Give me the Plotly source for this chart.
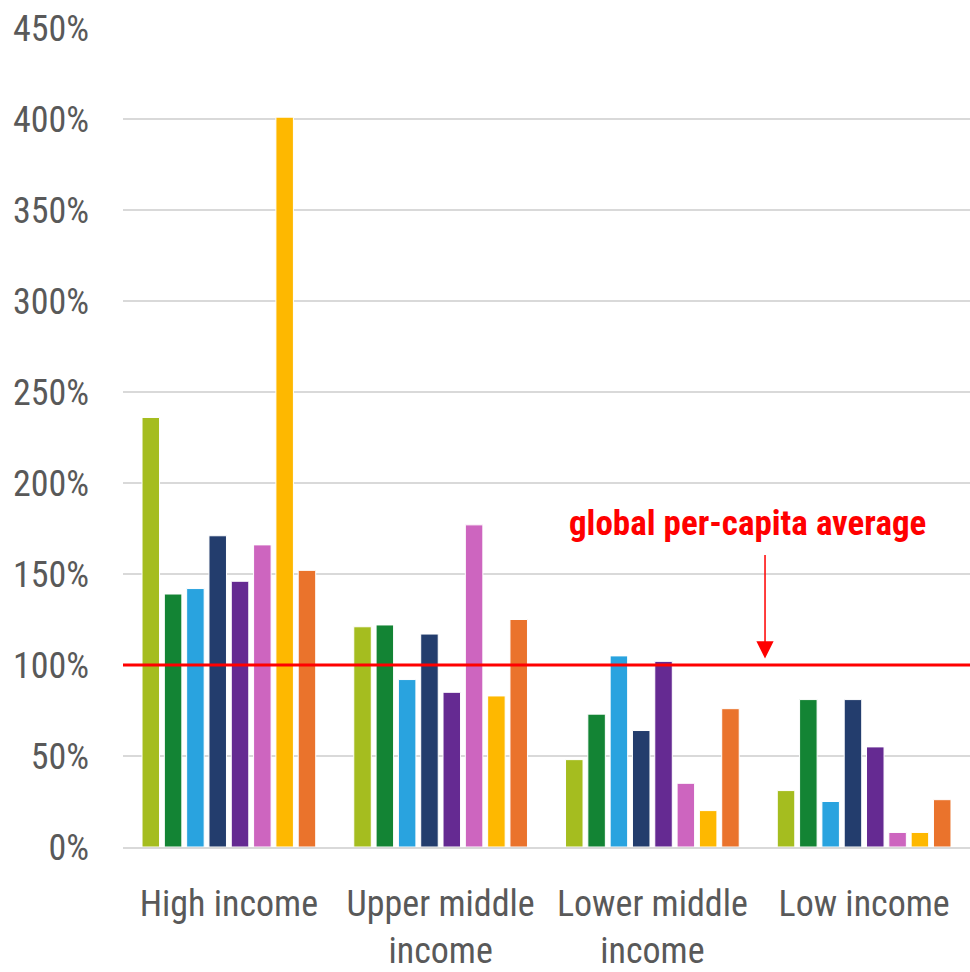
import plotly.graph_objects as go

# Income groups on the x axis
categories = ["High income", "Upper middle<br>income", "Lower middle<br>income", "Low income"]

# Per-capita values relative to the global average (%), one list per series
series_1 = [236, 121, 48, 31]
series_2 = [139, 122, 73, 81]
series_3 = [142, 92, 105, 25]
series_4 = [171, 117, 64, 81]
series_5 = [146, 85, 102, 55]
series_6 = [166, 177, 35, 8]
series_7 = [401, 83, 20, 8]
series_8 = [152, 125, 76, 26]

series_values = [series_1, series_2, series_3, series_4,
                 series_5, series_6, series_7, series_8]
series_colors = ["#A5BD1F", "#138434", "#29A3DF", "#233D6D",
                 "#652A92", "#CD65BF", "#FEB800", "#EA732C"]

global_average = 100
y_ticks = [0, 50, 100, 150, 200, 250, 300, 350, 400, 450]
y_tick_labels = [f"{v}%" for v in y_ticks]

FONT = "Roboto Condensed, DejaVu Sans Condensed, sans-serif"

fig = go.Figure()
for i, (vals, col) in enumerate(zip(series_values, series_colors)):
    fig.add_trace(go.Bar(
        x=categories, y=vals, name=f"Series {i + 1}",
        marker=dict(color=col, line=dict(color="white", width=1)),
        showlegend=False, hoverinfo="skip",
    ))

# Global per-capita average reference line
fig.add_shape(type="line", xref="paper", x0=0, x1=1, yref="y",
              y0=global_average, y1=global_average,
              line=dict(color="#FF0000", width=3), layer="above")

# Label and pointer for the reference line
fig.add_annotation(xref="paper", yref="y", x=0.737, y=178,
                   xanchor="center", yanchor="middle",
                   text="global per-capita average", showarrow=False,
                   font=dict(family=FONT, size=35, color="#FF0000", weight="bold"))
fig.add_annotation(xref="paper", yref="y", x=0.758, y=global_average + 3.6,
                   text="", showarrow=True, ax=0, ay=-105,
                   arrowhead=2, arrowsize=2.3, arrowwidth=1.5,
                   arrowcolor="#FF0000", standoff=0)

fig.update_layout(
    width=970, height=972,
    margin=dict(l=123, r=0, t=28, b=125, autoexpand=False),
    plot_bgcolor="white", paper_bgcolor="white",
    barmode="group", bargap=0.157, bargroupgap=0.215,
    font=dict(family=FONT, color="#595959", size=36),
)
fig.update_yaxes(range=[0, 450], tickvals=y_ticks, ticktext=y_tick_labels,
                 showgrid=True, gridcolor="#D9D9D9", gridwidth=1.5,
                 zeroline=False, showline=False, ticks="",
                 automargin=False, ticklabelstandoff=33,
                 tickfont=dict(family=FONT, size=36, color="#595959"))
fig.update_xaxes(showline=True, linecolor="#D9D9D9", linewidth=1.5,
                 ticks="", tickangle=0, automargin=False,
                 ticklabelstandoff=24,
                 tickfont=dict(family=FONT, size=36, color="#595959"))

fig.write_html("out.html")
